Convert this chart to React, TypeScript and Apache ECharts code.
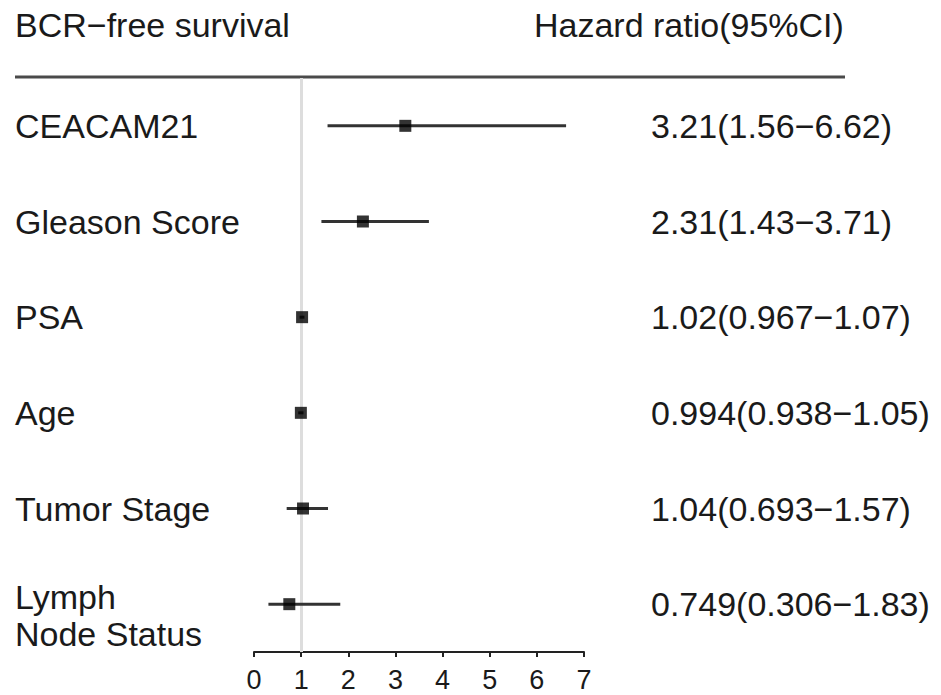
import React, { useEffect, useRef } from "react";
import * as echarts from "echarts";

const labels = ["CEACAM21", "Gleason Score", "PSA", "Age", "Tumor Stage", "Lymph\nNode Status"];
const hr = [3.21, 2.31, 1.02, 0.994, 1.04, 0.749];
const lower = [1.56, 1.43, 0.967, 0.938, 0.693, 0.306];
const upper = [6.62, 3.71, 1.07, 1.05, 1.57, 1.83];
const hrText = [
  "3.21(1.56\u22126.62)",
  "2.31(1.43\u22123.71)",
  "1.02(0.967\u22121.07)",
  "0.994(0.938\u22121.05)",
  "1.04(0.693\u22121.57)",
  "0.749(0.306\u22121.83)",
];
const xTicks = [0, 1, 2, 3, 4, 5, 6, 7];
const headerLeft = "BCR\u2212free survival";
const headerRight = "Hazard ratio(95%CI)";

const FONT = "'Liberation Sans', Arial, Helvetica, sans-serif";
const TXT = "#1a1a1a";

export default function App() {
  const ref = useRef<HTMLDivElement>(null);
  useEffect(() => {
    if (!ref.current) return;
    const chart = echarts.init(ref.current, null, { renderer: "svg" });
    const ciData = hr.map((h, i) => [h, lower[i], upper[i], i]);
    const ptData = hr.map((h, i) => [h, i]);
    chart.setOption({
      animation: false,
      backgroundColor: "#ffffff",
      textStyle: { fontFamily: FONT },
      grid: { left: 254, right: 357, top: 78, bottom: 43 },
      xAxis: {
        type: "value",
        min: xTicks[0],
        max: xTicks[xTicks.length - 1],
        interval: 1,
        splitLine: { show: false },
        axisLine: { show: true, lineStyle: { color: "#222", width: 2 } },
        axisTick: { show: true, length: 5, lineStyle: { color: "#222", width: 2 } },
        axisLabel: { fontSize: 27, color: TXT, margin: 14, fontFamily: FONT },
      },
      yAxis: [
        {
          type: "category",
          data: labels,
          inverse: true,
          position: "left",
          axisLine: { show: false },
          axisTick: { show: false },
          splitLine: { show: false },
          axisLabel: {
            interval: 0,
            align: "left",
            margin: 239,
            fontSize: 34,
            color: TXT,
            fontFamily: FONT,
            formatter: (v: string) =>
              v.indexOf("\n") >= 0
                ? v.split("\n").map((s, k) => (k === 0 ? "{a|" + s + "}" : "{b|" + s + "}")).join("\n")
                : v,
            rich: {
              a: { fontSize: 34, lineHeight: 60, verticalAlign: "middle", color: TXT, fontFamily: FONT },
              b: { fontSize: 34, lineHeight: 14, verticalAlign: "middle", color: TXT, fontFamily: FONT },
            },
          },
        },
        {
          type: "category",
          data: hrText,
          inverse: true,
          position: "right",
          axisLine: { show: false },
          axisTick: { show: false },
          splitLine: { show: false },
          axisLabel: {
            interval: 0,
            align: "left",
            margin: 67,
            fontSize: 34,
            color: TXT,
            fontFamily: FONT,
          },
        },
      ],
      graphic: [
        {
          type: "text",
          left: 15,
          top: 8,
          style: { text: headerLeft, fontSize: 34, fill: TXT, fontFamily: FONT },
        },
        {
          type: "text",
          left: 534,
          top: 8,
          style: { text: headerRight, fontSize: 34, fill: TXT, fontFamily: FONT },
        },
        {
          type: "line",
          shape: { x1: 15, y1: 77, x2: 845, y2: 77 },
          style: { stroke: "#4a4a4a", lineWidth: 3 },
        },
      ],
      series: [
        {
          type: "scatter",
          data: [],
          z: 1,
          markLine: {
            silent: true,
            z: 1,
            symbol: "none",
            label: { show: false },
            lineStyle: { color: "#dddddd", width: 3, type: "solid" },
            data: [{ xAxis: 1 }],
          },
        },
        {
          type: "custom",
          z: 2,
          data: ciData,
          encode: { x: [0, 1, 2], y: 3 },
          renderItem: (params: any, api: any) => {
            const idx = api.value(3);
            const pLo = api.coord([api.value(1), idx]);
            const pHi = api.coord([api.value(2), idx]);
            return {
              type: "line",
              shape: { x1: pLo[0], y1: pLo[1], x2: pHi[0], y2: pHi[1] },
              style: { stroke: "#333333", lineWidth: 3 },
            };
          },
        },
        {
          type: "scatter",
          z: 3,
          data: ptData,
          symbol: "rect",
          symbolSize: 12,
          itemStyle: { color: "#000000" },
        },
      ],
    });
    return () => chart.dispose();
  }, []);
  return (
    <div
      ref={ref}
      style={{ position: "fixed", left: 0, top: 0, width: 941, height: 695 }}
    />
  );
}
